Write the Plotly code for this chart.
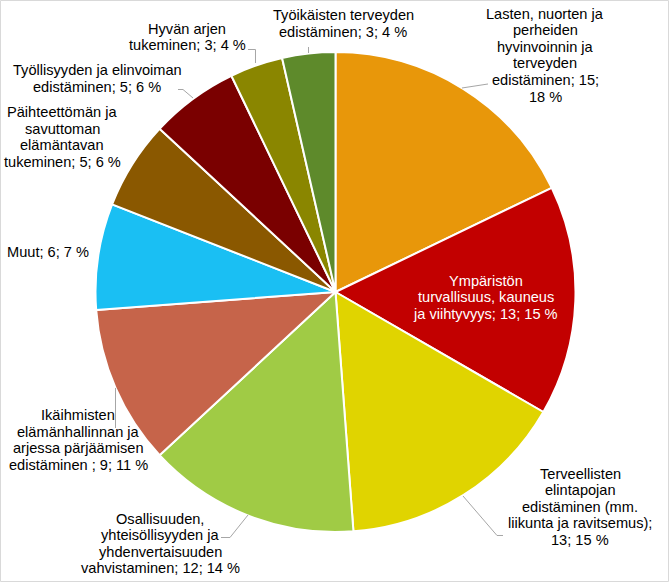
import plotly.graph_objects as go

# ---------------- data ----------------
categories = [
    "Lasten, nuorten ja perheiden hyvinvoinnin ja terveyden edistäminen",
    "Ympäristön turvallisuus, kauneus ja viihtyvyys",
    "Terveellisten elintapojan edistäminen (mm. liikunta ja ravitsemus)",
    "Osallisuuden, yhteisöllisyyden ja yhdenvertaisuuden vahvistaminen",
    "Ikäihmisten elämänhallinnan ja arjessa pärjäämisen edistäminen ",
    "Muut",
    "Päihteettömän ja savuttoman elämäntavan tukeminen",
    "Työllisyyden ja elinvoiman edistäminen",
    "Hyvän arjen tukeminen",
    "Työikäisten terveyden edistäminen",
]
values = [15, 13, 13, 12, 9, 6, 5, 5, 3, 3]

# ---------------- styling / layout ----------------
colors = ["#E8970A", "#C20000", "#E0D400", "#A0CB45", "#C6644A",
          "#1ABFF3", "#8A5800", "#7A0000", "#8A8600", "#5E8A2B"]
# word indices after which a label line breaks
breaks = [[2, 3, 5, 6, 8], [0, 2], [0, 1, 3, 6], [0, 2, 3], [0, 2, 4],
          [], [1, 2, 3], [2], [1], [1]]
# label centre x and first-line y (pixels)
label_pos = [(545, 13.5), (485.5, 280.5), (580, 473.5), (160, 518.5), (78, 415),
             (47.5, 252), (62, 112), (97, 70.5), (187, 28.5), (343, 15.5)]
label_color = ["#000000", "#FFFFFF"] + ["#000000"] * 8
leaders = [
    [(462, 88), (488, 84)],
    None,
    [(503, 535.5), (497, 535.5), (463, 496)],
    [(221, 537.5), (230, 537.5), (248, 515)],
    [(115.5, 388), (115.5, 428)],
    None,
    None,
    [(178, 89.5), (183, 89.5), (193, 98)],
    [(248, 49.5), (255.5, 49.5), (255.5, 63)],
    [(308.5, 47), (308.5, 53)],
]

W, H = 670, 583
FONT = "Liberation Sans, Arial, sans-serif"
FS = 14.6
LH = 16.6
CX, CY, R = 335.5, 292, 240


def px(x, y):
    return x / W, 1 - y / H


total = sum(values)
fig = go.Figure(go.Pie(
    labels=categories, values=values, sort=False, direction="clockwise",
    rotation=0, textinfo="none", hoverinfo="label+value+percent",
    marker=dict(colors=colors, line=dict(color="white", width=2)),
    domain=dict(x=[(CX - R) / W, (CX + R) / W],
                y=[1 - (CY + R) / H, 1 - (CY - R) / H]),
))

annotations = []
for name, v, br, (lx, ly), col in zip(categories, values, breaks, label_pos, label_color):
    pct = round(v / total * 100)
    words = f"{name}; {v}; {pct} %".split(" ")
    lines, cur = [], []
    for i, w in enumerate(words):
        cur.append(w)
        if i in br:
            lines.append(" ".join(cur))
            cur = []
    if cur:
        lines.append(" ".join(cur))
    for k, line in enumerate(lines):
        x, y = px(lx, ly + k * LH)
        annotations.append(dict(
            x=x, y=y, xref="paper", yref="paper", text=line, showarrow=False,
            xanchor="center", yanchor="middle",
            font=dict(family=FONT, size=FS, color=col)))

shapes = []
for pts in leaders:
    if not pts:
        continue
    path = ""
    for j, (x, y) in enumerate(pts):
        fx, fy = px(x, y)
        path += ("M" if j == 0 else " L") + f"{fx:.5f},{fy:.5f}"
    shapes.append(dict(type="path", path=path, xref="paper", yref="paper",
                       line=dict(color="#A6A6A6", width=1)))
# chart border
bx0, by0 = px(0.5, 0.5)
bx1, by1 = px(668.5, 581.5)
shapes.append(dict(type="rect", xref="paper", yref="paper", x0=bx0, y0=by1,
                   x1=bx1, y1=by0, line=dict(color="#D9D9D9", width=1)))

fig.update_layout(
    width=W, height=H, margin=dict(l=0, r=0, t=0, b=0),
    paper_bgcolor="white", plot_bgcolor="white", showlegend=False,
    annotations=annotations, shapes=shapes,
    font=dict(family=FONT, size=FS, color="#000000"),
)
fig.write_html("out.html")
